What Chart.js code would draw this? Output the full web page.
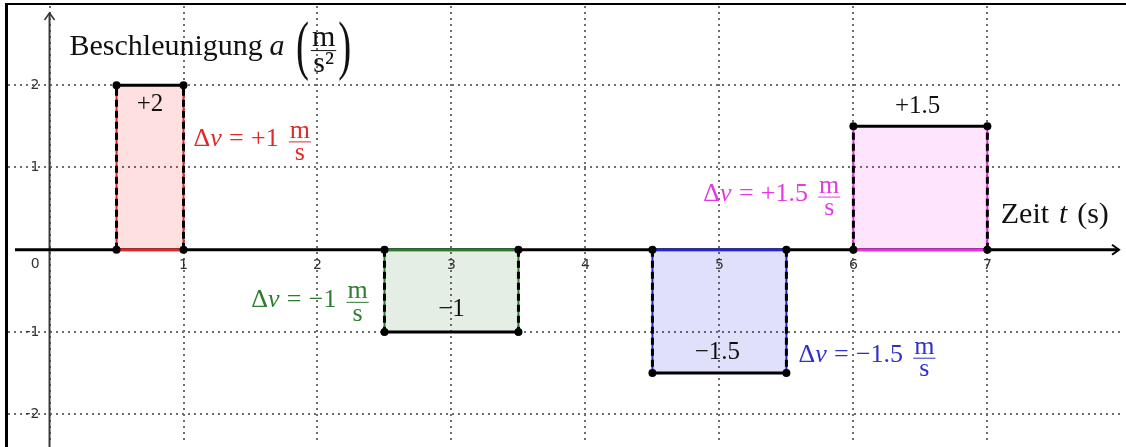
<!DOCTYPE html>
<html><head><meta charset="utf-8">
<script src="https://cdn.jsdelivr.net/npm/chart.js@4.4.1/dist/chart.umd.min.js"></script>
<style>html,body{margin:0;padding:0;background:#fff;}#c{display:block;}</style>
</head><body>
<canvas id="c" width="1126" height="447"></canvas>
<script>
// ---- data ----
const intervalStart = [0.5, 2.5, 4.5, 6];
const intervalEnd   = [1, 3.5, 5.5, 7];
const acceleration  = [2, -1, -1.5, 1.5];
const areaLabels    = ['+2', '\u22121', '\u22121.5', '+1.5'];
const deltaV        = ['+1', '\u22121', '\u22121.5', '+1.5'];
const xTickValues   = [1, 2, 3, 4, 5, 6, 7];
const yTickValues   = [-2, -1, 1, 2];
const xAxisTitle    = 'Zeit';
const yAxisTitle    = 'Beschleunigung';

// ---- styles / label anchors (data units) ----
const lineColors = ['#e3262a', '#2a7a2a', '#2424d6', '#ec2aec'];
const textColors = ['#e02a2a', '#2e7d2e', '#3030cc', '#e23ae2'];
const fillColors = ['rgba(245,0,0,0.12)', 'rgba(0,90,0,0.10)', 'rgba(0,0,220,0.12)', 'rgba(250,0,240,0.10)'];
const areaLabelPos = [[0.75, 1.745], [3.0, -0.755], [4.985, -1.278], [6.48, 1.722]];
const dvLabelPos = [[1.075, 1.317, 'left'], [2.39, -0.634, 'right'], [5.59, -1.313, 'left'], [5.91, 0.646, 'right']];
const X_MIN = -0.31, X_MAX = 7.99, Y_MIN = -2.35, Y_MAX = 2.963;
const SERIF = '"Liberation Serif", "Times New Roman", serif';
const SANS = '"DejaVu Sans", sans-serif';
const TXT = 26;

const datasets = [];
intervalStart.forEach((s, i) => {
  const e = intervalEnd[i], a = acceleration[i];
  const base = {type: 'line', pointRadius: 0, fill: false, tension: 0};
  datasets.push({...base, data: [{x: s, y: 0}, {x: s, y: a}, {x: e, y: a}, {x: e, y: 0}], fill: 'origin',
    backgroundColor: fillColors[i], borderWidth: 0, borderColor: 'transparent', order: 50});
  datasets.push({...base, data: [{x: s, y: 0}, {x: e, y: 0}], borderColor: lineColors[i], borderWidth: 2.5, order: 40});
  [s, e].forEach(xv => {
    datasets.push({...base, data: [{x: xv, y: 0}, {x: xv, y: a}], borderColor: lineColors[i], borderWidth: 2, order: 40});
    datasets.push({...base, data: [{x: xv, y: 0}, {x: xv, y: a}], borderColor: '#000', borderWidth: 3, borderDash: [7, 4], order: 30});
  });
  datasets.push({...base, data: [{x: s, y: a}, {x: e, y: a}], borderColor: '#000', borderWidth: 3, order: 20});
  datasets.push({...base, data: [{x: s, y: 0}, {x: s, y: a}, {x: e, y: a}, {x: e, y: 0}], showLine: false,
    pointRadius: 4, pointBackgroundColor: '#000', pointBorderWidth: 0, order: 10});
});

function drawMath(ctx, parts, px, py, align, size, color) {
  const fN = size + 'px ' + SERIF, fI = 'italic ' + size + 'px ' + SERIF;
  const widths = parts.map(p => {
    if (p.frac) { ctx.font = fN; return Math.max(ctx.measureText(p.frac[0]).width, ctx.measureText(p.frac[1]).width) + 4; }
    if (p.sp) return p.sp * size;
    if (p.paren) { ctx.font = fN; return ctx.measureText(p.paren).width * 1.5; }
    ctx.font = p.it ? fI : fN; return ctx.measureText(p.t).width;
  });
  const total = widths.reduce((s, w) => s + w, 0);
  let cx = align === 'left' ? px : align === 'right' ? px - total : px - total / 2;
  ctx.fillStyle = color; ctx.strokeStyle = color;
  ctx.textBaseline = 'alphabetic';
  parts.forEach((p, i) => {
    const w = widths[i];
    if (p.frac) {
      ctx.font = fN; ctx.textAlign = 'center';
      const mx = cx + w / 2;
      ctx.fillText(p.frac[0], mx, py - 0.14 * size);
      ctx.fillText(p.frac[1], mx, py + 0.72 * size);
      ctx.lineWidth = 1; ctx.beginPath(); ctx.moveTo(cx + 1, py + 0.5); ctx.lineTo(cx + w - 1, py + 0.5); ctx.stroke();
    } else if (p.paren) {
      ctx.save(); ctx.font = fN; ctx.textAlign = 'center';
      ctx.translate(cx + w / 2, py); ctx.scale(1.3, 2.2);
      ctx.fillText(p.paren, 0, 0.25 * size);
      ctx.restore();
    } else if (!p.sp) {
      ctx.font = p.it ? fI : fN; ctx.textAlign = 'left';
      ctx.fillText(p.t, cx, py + 0.18 * size);
    }
    cx += w;
  });
}

const deco = {
  id: 'deco',
  beforeDatasetsDraw(chart) {
    const {ctx, scales: {x, y}, chartArea: a} = chart;
    const x0 = x.getPixelForValue(0), y0 = y.getPixelForValue(0);
    ctx.save();
    ctx.lineCap = 'butt';
    ctx.strokeStyle = '#3a3a3a'; ctx.lineWidth = 2;
    const yTip = a.top + 7;
    ctx.beginPath(); ctx.moveTo(x0, chart.height); ctx.lineTo(x0, yTip); ctx.stroke();
    ctx.lineWidth = 1.6;
    ctx.beginPath(); ctx.moveTo(x0 - 5, yTip + 7); ctx.lineTo(x0, yTip); ctx.lineTo(x0 + 5, yTip + 7); ctx.stroke();
    ctx.strokeStyle = '#000'; ctx.lineWidth = 3;
    const xL = a.left + 7, xTip = a.right - 1;
    ctx.beginPath(); ctx.moveTo(xL, y0); ctx.lineTo(xTip, y0); ctx.stroke();
    ctx.lineWidth = 2;
    ctx.beginPath(); ctx.moveTo(xTip - 7, y0 - 5); ctx.lineTo(xTip, y0); ctx.lineTo(xTip - 7, y0 + 5); ctx.stroke();
    ctx.restore();
  },
  afterDraw(chart) {
    const {ctx, scales: {x, y}} = chart;
    ctx.save();
    ctx.font = '14px ' + SANS; ctx.fillStyle = '#333'; ctx.textAlign = 'center'; ctx.textBaseline = 'top';
    ctx.fillText('0', x.getPixelForValue(-0.107), y.getPixelForValue(0) + 8);
    areaLabels.forEach((t, i) => {
      drawMath(ctx, [{t}], x.getPixelForValue(areaLabelPos[i][0]), y.getPixelForValue(areaLabelPos[i][1]), 'center', 25, '#111');
    });
    deltaV.forEach((t, i) => {
      const [dx, dy, al] = dvLabelPos[i];
      drawMath(ctx, [{t: '\u0394'}, {t: 'v', it: 1}, {sp: 0.28}, {t: '='}, {sp: 0.28}, {t}, {sp: 0.35}, {frac: ['m', 's']}],
        x.getPixelForValue(dx), y.getPixelForValue(dy), al, TXT, textColors[i]);
    });
    drawMath(ctx, [{t: xAxisTitle}, {sp: 0.33}, {t: 't', it: 1}, {sp: 0.33}, {t: '(s)'}],
      x.getPixelForValue(7.10), y.getPixelForValue(0.39), 'left', 30, '#111');
    drawMath(ctx, [{t: yAxisTitle}, {sp: 0.22}, {t: 'a', it: 1}, {sp: 0.35}, {paren: '('}, {frac: ['m', 's\u00B2']}, {paren: ')'}],
      x.getPixelForValue(0.149), y.getPixelForValue(2.427), 'left', 30, '#111');
    ctx.fillStyle = '#000';
    ctx.fillRect(5, 3, chart.width - 5, 2);
    ctx.fillRect(5, 3, 3, chart.height - 3);
    ctx.restore();
  }
};

const zeroPad = s => { s.paddingTop = 0; s.paddingBottom = 0; s.paddingLeft = 0; s.paddingRight = 0; };

new Chart(document.getElementById('c'), {
  type: 'line',
  data: {datasets},
  plugins: [deco],
  options: {
    responsive: false, animation: false, events: [], devicePixelRatio: 1,
    layout: {padding: {left: 8, right: 6, top: 6, bottom: 0}},
    plugins: {legend: {display: false}, tooltip: {enabled: false}},
    scales: {
      x: {
        type: 'linear', min: X_MIN, max: X_MAX, position: {y: 0},
        afterBuildTicks: s => { s.ticks = [0].concat(xTickValues).map(v => ({value: v})); },
        afterFit: zeroPad,
        ticks: {includeBounds: false, stepSize: 1, autoSkip: false, maxRotation: 0, padding: 7, z: 1,
          font: {family: 'DejaVu Sans', size: 14}, color: '#333',
          callback: v => v === 0 ? '' : String(v)},
        grid: {color: '#6e6e6e', lineWidth: 2, drawTicks: false},
        border: {display: false, dash: [2, 4]}
      },
      y: {
        type: 'linear', min: Y_MIN, max: Y_MAX, position: {x: -0.075},
        afterBuildTicks: s => { s.ticks = yTickValues.map(v => ({value: v})); },
        afterFit: zeroPad,
        ticks: {includeBounds: false, stepSize: 1, autoSkip: false, padding: 10, z: 1,
          font: {family: 'DejaVu Sans', size: 14}, color: '#333',
          callback: v => String(v)},
        grid: {color: '#6e6e6e', lineWidth: 2, drawTicks: false},
        border: {display: false, dash: [2, 4]}
      }
    }
  }
});
</script>
</body></html>
